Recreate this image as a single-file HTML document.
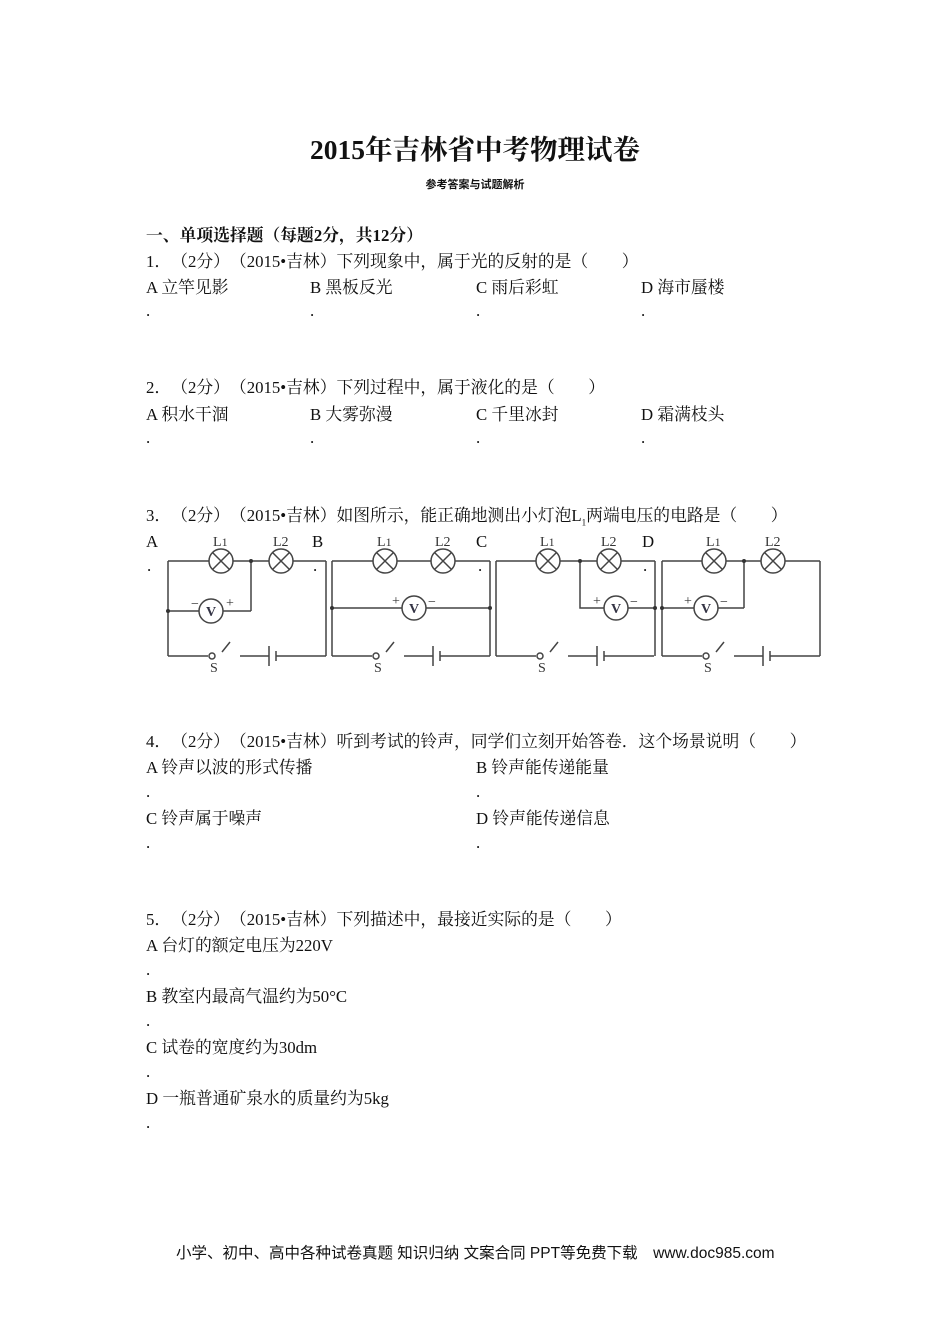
<!DOCTYPE html>
<html><head><meta charset="utf-8"><style>
body{margin:0;background:#fff;}
#p{position:relative;width:950px;height:1344px;font-family:"Liberation Serif","Noto Serif CJK SC",serif;color:#111;font-size:16.8px;text-spacing-trim:space-all;}
.t{position:absolute;white-space:nowrap;line-height:1;}
</style></head><body><div id="p">
<div class="t" style="left:0;width:950px;text-align:center;top:136px;font-size:27.5px;font-weight:bold;">2015年吉林省中考物理试卷</div>
<div class="t" style="left:0;width:950px;text-align:center;top:180px;font-size:11px;font-weight:bold;font-family:'Liberation Sans','Noto Sans CJK SC',sans-serif;">参考答案与试题解析</div>
<div class="t" style="left:146px;top:228px;font-weight:bold;">一、单项选择题（每题2分，共12分）</div>
<div class="t" style="left:146px;top:254px;">1．（2分）（2015•吉林）下列现象中，属于光的反射的是（　　）</div>
<div class="t" style="left:146px;top:280px;">A 立竿见影</div><div class="t" style="left:310px;top:280px;">B 黑板反光</div><div class="t" style="left:476px;top:280px;">C 雨后彩虹</div><div class="t" style="left:641px;top:280px;">D 海市蜃楼</div>
<div class="t" style="left:146px;top:303px;">.</div><div class="t" style="left:310px;top:303px;">.</div><div class="t" style="left:476px;top:303px;">.</div><div class="t" style="left:641px;top:303px;">.</div>
<div class="t" style="left:146px;top:380px;">2．（2分）（2015•吉林）下列过程中，属于液化的是（　　）</div>
<div class="t" style="left:146px;top:407px;">A 积水干涸</div><div class="t" style="left:310px;top:407px;">B 大雾弥漫</div><div class="t" style="left:476px;top:407px;">C 千里冰封</div><div class="t" style="left:641px;top:407px;">D 霜满枝头</div>
<div class="t" style="left:146px;top:430px;">.</div><div class="t" style="left:310px;top:430px;">.</div><div class="t" style="left:476px;top:430px;">.</div><div class="t" style="left:641px;top:430px;">.</div>
<div class="t" style="left:146px;top:508px;">3．（2分）（2015•吉林）如图所示，能正确地测出小灯泡L<sub style="font-size:9px">1</sub>两端电压的电路是（　　）</div>
<div class="t" style="left:146px;top:534px;">A</div><div class="t" style="left:312px;top:534px;">B</div><div class="t" style="left:476px;top:534px;">C</div><div class="t" style="left:642px;top:534px;">D</div>
<div class="t" style="left:147px;top:558px;">.</div><div class="t" style="left:313px;top:558px;">.</div><div class="t" style="left:478px;top:558px;">.</div><div class="t" style="left:643px;top:558px;">.</div>
<svg style="position:absolute;left:0;top:0" width="950" height="1344" font-family="Liberation Serif,serif">
<defs>
<g id="lamp"><circle r="12" fill="#fff" stroke="#444" stroke-width="1.5"/><path d="M-8.5,-8.5L8.5,8.5M-8.5,8.5L8.5,-8.5" stroke="#444" stroke-width="1.5"/></g>
<g id="vm"><circle r="12" fill="#fff" stroke="#444" stroke-width="1.5"/><text x="0" y="5" text-anchor="middle" font-size="14" font-weight="bold" fill="#334">V</text></g>
<g id="bot" stroke="#444" stroke-width="1.5" fill="none">
<path d="M0,656H40M54,652L62,642M72,656H101M101,646V666M108,651V661M108,656H158"/><circle cx="44" cy="656" r="3"/>
</g>
</defs>
<g stroke="#444" stroke-width="1.5" fill="none">
<path d="M168,561V656M168,561H326M326,561V656M168,611H251M251,561V611"/>
<path d="M332,561V656M332,561H490M490,561V656M332,608H490"/>
<path d="M496,561V656M496,561H655M655,561V656M580,561V608H655"/>
<path d="M662,561V656M662,561H820M820,561V656M662,608H744M744,561V608"/>
</g>
<use href="#bot" x="168"/><use href="#bot" x="332"/><use href="#bot" x="496"/><use href="#bot" x="662"/>
<g fill="#333"><circle cx="168" cy="611" r="2"/><circle cx="251" cy="561" r="2"/><circle cx="332" cy="608" r="2"/><circle cx="490" cy="608" r="2"/><circle cx="580" cy="561" r="2"/><circle cx="655" cy="608" r="2"/><circle cx="662" cy="608" r="2"/><circle cx="744" cy="561" r="2"/></g>
<use href="#lamp" x="221" y="561"/><use href="#lamp" x="281" y="561"/>
<use href="#lamp" x="385" y="561"/><use href="#lamp" x="443" y="561"/>
<use href="#lamp" x="548" y="561"/><use href="#lamp" x="609" y="561"/>
<use href="#lamp" x="714" y="561"/><use href="#lamp" x="773" y="561"/>
<use href="#vm" x="211" y="611"/><use href="#vm" x="414" y="608"/><use href="#vm" x="616" y="608"/><use href="#vm" x="706" y="608"/>
<g font-size="14" fill="#333">
<text x="213" y="546">L<tspan font-size="12">1</tspan></text><text x="273" y="546">L2</text>
<text x="377" y="546">L<tspan font-size="12">1</tspan></text><text x="435" y="546">L2</text>
<text x="540" y="546">L<tspan font-size="12">1</tspan></text><text x="601" y="546">L2</text>
<text x="706" y="546">L<tspan font-size="12">1</tspan></text><text x="765" y="546">L2</text>
<text x="191" y="608">−</text><text x="226" y="607">+</text>
<text x="392" y="605">+</text><text x="428" y="606">−</text>
<text x="593" y="605">+</text><text x="630" y="606">−</text>
<text x="684" y="605">+</text><text x="720" y="606">−</text>
<text x="210" y="672">S</text><text x="374" y="672">S</text><text x="538" y="672">S</text><text x="704" y="672">S</text>
</g>
</svg>
<div class="t" style="left:146px;top:734px;">4．（2分）（2015•吉林）听到考试的铃声，同学们立刻开始答卷．这个场景说明（　　）</div>
<div class="t" style="left:146px;top:760px;">A 铃声以波的形式传播</div><div class="t" style="left:476px;top:760px;">B 铃声能传递能量</div>
<div class="t" style="left:146px;top:784px;">.</div><div class="t" style="left:476px;top:784px;">.</div>
<div class="t" style="left:146px;top:811px;">C 铃声属于噪声</div><div class="t" style="left:476px;top:811px;">D 铃声能传递信息</div>
<div class="t" style="left:146px;top:835px;">.</div><div class="t" style="left:476px;top:835px;">.</div>
<div class="t" style="left:146px;top:912px;">5．（2分）（2015•吉林）下列描述中，最接近实际的是（　　）</div>
<div class="t" style="left:146px;top:938px;">A 台灯的额定电压为220V</div>
<div class="t" style="left:146px;top:962px;">.</div>
<div class="t" style="left:146px;top:989px;">B 教室内最高气温约为50°C</div>
<div class="t" style="left:146px;top:1013px;">.</div>
<div class="t" style="left:146px;top:1040px;">C 试卷的宽度约为30dm</div>
<div class="t" style="left:146px;top:1064px;">.</div>
<div class="t" style="left:146px;top:1091px;">D 一瓶普通矿泉水的质量约为5kg</div>
<div class="t" style="left:146px;top:1115px;">.</div>
<div class="t" style="left:176px;top:1246px;font-size:15.5px;font-family:'Liberation Sans','Noto Sans CJK SC',sans-serif;">小学、初中、高中各种试卷真题 知识归纳 文案合同 PPT等免费下载　www.doc985.com</div>
</div></body></html>
